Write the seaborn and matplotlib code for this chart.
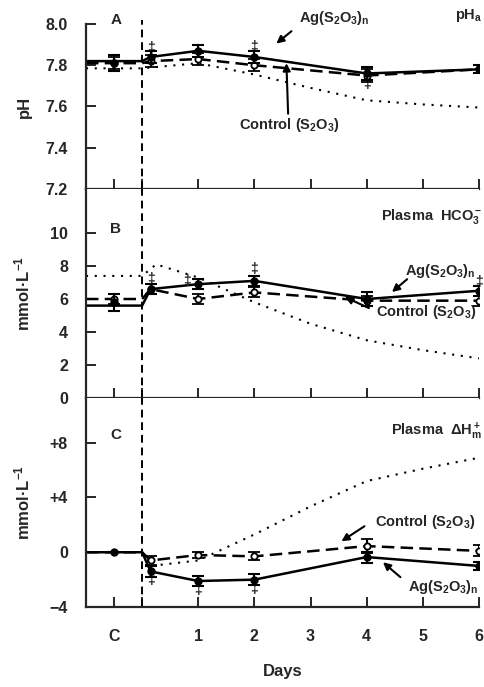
import numpy as np
import matplotlib
matplotlib.use('Agg')
import matplotlib.pyplot as plt
import seaborn as sns

# ---- data ----
days_pts = [-0.5, 0.15, 1, 2, 4, 6]
days_ticks = [-0.5, 0, 1, 2, 3, 4, 5, 6]
day_labels = ['C', '', '1', '2', '3', '4', '5', '6']

# A: arterial pH
ph_ag = [7.81, 7.84, 7.87, 7.84, 7.76, 7.78]
ph_ag_se = [0.04, 0.03, 0.03, 0.03, 0.03, 0.02]
ph_ag_base = 7.82
ph_ctl = [7.81, 7.82, 7.83, 7.80, 7.75, 7.78]
ph_ctl_se = [0.03, 0.03, 0.03, 0.03, 0.03, 0.02]
ph_ctl_base = 7.81
ph_ref_days = [-1, 0, 1, 2, 3, 4, 5, 6]
ph_ref = [7.785, 7.785, 7.81, 7.755, 7.69, 7.63, 7.61, 7.595]
ph_star_days = [0.15, 2, 4]
ph_star_y = [7.885, 7.89, 7.71]

# B: plasma HCO3-
hco3_ag = [5.8, 6.6, 6.9, 7.1, 6.0, 6.5]
hco3_ag_se = [0.5, 0.3, 0.3, 0.3, 0.4, 0.3]
hco3_ag_base = 5.6
hco3_ctl = [6.0, 6.6, 6.0, 6.4, 5.9, 5.9]
hco3_ctl_se = [0.3, 0.3, 0.3, 0.3, 0.3, 0.3]
hco3_ctl_base = 6.0
hco3_ref_days = [-1, 0, 0.25, 1, 2, 3, 4, 5, 6]
hco3_ref = [7.4, 7.4, 8.1, 7.3, 5.8, 4.5, 3.5, 2.9, 2.4]
hco3_star_days = [0.15, 0.8, 2, 6]
hco3_star_y = [7.2, 7.1, 7.8, 7.05]

# C: plasma metabolic acid load
dh_ag = [0.0, -1.4, -2.1, -2.0, -0.35, -1.0]
dh_ag_se = [0.0, 0.4, 0.4, 0.4, 0.4, 0.3]
dh_ag_base = 0.0
dh_ctl = [np.nan, -0.6, -0.2, -0.3, 0.45, 0.1]
dh_ctl_se = [0.0, 0.3, 0.2, 0.3, 0.5, 0.4]
dh_ctl_base = 0.0
dh_ref_days = [0, 0.15, 1, 2, 3, 4, 5, 6]
dh_ref = [0.0, -1.0, -0.6, 1.3, 3.35, 5.2, 6.1, 6.9]
dh_star_days = [0.15, 1, 2]
dh_star_y = [-2.0, -2.75, -2.65]

# ---- style ----
sns.set_style('ticks')
plt.rcParams['font.family'] = ['Liberation Sans', 'DejaVu Sans']
plt.rcParams['font.weight'] = 'bold'
plt.rcParams['mathtext.fontset'] = 'custom'
plt.rcParams['mathtext.rm'] = 'Liberation Sans:bold'
plt.rcParams['mathtext.it'] = 'Liberation Sans:bold'
plt.rcParams['mathtext.bf'] = 'Liberation Sans:bold'

AG = r'Ag(S$_2$O$_3$)$_n$'
CTL = r'Control (S$_2$O$_3$)'

fig = plt.figure(figsize=(4.85, 6.87), dpi=100)
L, W = 0.1773, 0.8103
axA = fig.add_axes([L, 0.7249, W, 0.2402])
axB = fig.add_axes([L, 0.4207, W, 0.3042])
axC = fig.add_axes([L, 0.1164, W, 0.3042])

solid_ls = '-'
dash_ls = (0, (5, 2.5))
dot_ls = (0, (1, 3.2))


def panel(ax, ag, ag_se, ag_base, ctl, ctl_se, ctl_base, ref_d, ref, sd, sy):
    line_x = [-1, 0] + days_pts[1:]
    sns.lineplot(x=ref_d, y=ref, ax=ax, color='black', lw=1.5, linestyle=dot_ls,
                 errorbar=None, sort=False)
    sns.lineplot(x=line_x, y=[ctl_base, ctl_base] + list(ctl[1:]), ax=ax, color='black',
                 lw=1.8, linestyle=dash_ls, errorbar=None, sort=False)
    sns.lineplot(x=line_x, y=[ag_base, ag_base] + list(ag[1:]), ax=ax, color='black',
                 lw=1.8, linestyle=solid_ls, errorbar=None, sort=False)
    ax.errorbar(days_pts, ctl, yerr=ctl_se, fmt='o', color='black', mfc='white',
                mec='black', ms=4.5, mew=1.3, capsize=4, elinewidth=1.5, capthick=1.5, zorder=4)
    ax.errorbar(days_pts, ag, yerr=ag_se, fmt='o', color='black',
                ms=5, capsize=4, elinewidth=1.5, capthick=1.5, zorder=5)
    for x, y in zip(sd, sy):
        ax.text(x, y, '‡', ha='center', va='center', fontsize=10, fontweight='bold')
    ax.set_xlim(-1, 6)
    ax.set_xticks(days_ticks)
    sns.despine(ax=ax)
    for s in ('left', 'bottom'):
        ax.spines[s].set_linewidth(1.6)
    ax.tick_params(direction='in', length=7, width=1.4, labelsize=11.5, pad=13)
    ax.set_xlabel('')
    ax.yaxis.set_label_coords(-0.137, 0.5)


panel(axA, ph_ag, ph_ag_se, ph_ag_base, ph_ctl, ph_ctl_se, ph_ctl_base,
      ph_ref_days, ph_ref, ph_star_days, ph_star_y)
panel(axB, hco3_ag, hco3_ag_se, hco3_ag_base, hco3_ctl, hco3_ctl_se, hco3_ctl_base,
      hco3_ref_days, hco3_ref, hco3_star_days, hco3_star_y)
panel(axC, dh_ag, dh_ag_se, dh_ag_base, dh_ctl, dh_ctl_se, dh_ctl_base,
      dh_ref_days, dh_ref, dh_star_days, dh_star_y)

axA.set_ylim(7.2, 8.0)
axA.set_yticks([7.2, 7.4, 7.6, 7.8, 8.0])
axA.set_yticklabels(['7.2', '7.4', '7.6', '7.8', '8.0'])
axA.set_ylabel('pH', fontsize=12, fontweight='bold')
axB.set_ylim(0, 12.67)
axB.set_yticks([0, 2, 4, 6, 8, 10])
axB.set_ylabel(r'mmol·L$^{-1}$', fontsize=12, fontweight='bold')
axC.set_ylim(-4, 11.26)
axC.set_yticks([-4, 0, 4, 8])
axC.set_yticklabels(['\u22124', '0', '+4', '+8'])
axC.set_ylabel(r'mmol·L$^{-1}$', fontsize=12, fontweight='bold')
axC.yaxis.set_label_coords(-0.137, 0.5)

for ax in (axA, axB):
    ax.tick_params(axis='x', labelbottom=False)
axC.set_xticklabels(day_labels)
axC.tick_params(axis='x', pad=16)
axC.set_xlabel('Days', fontsize=12, fontweight='bold', labelpad=14)

# vertical exposure marker at day 0
axA.axvline(0, ymin=0, ymax=1.025, color='black', lw=1.4, ls=(0, (4, 2.5)), clip_on=False)
axB.axvline(0, color='black', lw=1.4, ls=(0, (4, 2.5)))
axC.axvline(0, color='black', lw=1.4, ls=(0, (4, 2.5)))

# panel letters
axA.text(-0.47, 8.02, 'A', ha='center', va='center', fontsize=11, fontweight='bold', clip_on=False)
axB.text(-0.47, 10.24, 'B', ha='center', va='center', fontsize=11, fontweight='bold')
axC.text(-0.47, 8.54, 'C', ha='center', va='center', fontsize=11, fontweight='bold')

# panel titles
fig.text(0.994, 1 - 15 / 687, r'pH$_a$', ha='right', va='center', fontsize=10.5)
fig.text(0.994, 1 - 216 / 687, r'Plasma  HCO$_3^-$', ha='right', va='center', fontsize=10.5)
fig.text(0.994, 1 - 431 / 687, r'Plasma  ΔH$^+_m$', ha='right', va='center', fontsize=10.5)

arrow = dict(arrowstyle='-|>', color='black', lw=1.5, mutation_scale=11, shrinkA=0, shrinkB=0)
# A
axA.text(3.43, 8.03, AG, ha='center', va='center', fontsize=10.5, clip_on=False)
axA.annotate('', xy=(2.39, 7.905), xytext=(2.66, 7.965), arrowprops=arrow, annotation_clip=False)
axA.text(2.63, 7.51, CTL, ha='center', va='center', fontsize=10.5)
axA.annotate('', xy=(2.57, 7.81), xytext=(2.6, 7.565), arrowprops=arrow)
# B
axB.text(5.32, 7.7, AG, ha='center', va='center', fontsize=10.5)
axB.annotate('', xy=(4.45, 6.42), xytext=(4.72, 7.2), arrowprops=arrow)
axB.text(5.07, 5.21, CTL, ha='center', va='center', fontsize=10.5)
axB.annotate('', xy=(3.61, 6.12), xytext=(4.04, 5.45), arrowprops=arrow)
# C
axC.text(5.04, 2.19, CTL, ha='center', va='center', fontsize=10.5)
axC.annotate('', xy=(3.55, 0.8), xytext=(3.96, 1.9), arrowprops=arrow)
axC.text(5.36, -2.55, AG, ha='center', va='center', fontsize=10.5)
axC.annotate('', xy=(4.29, -0.73), xytext=(4.6, -1.82), arrowprops=arrow)

fig.savefig('out.png', dpi=100)
